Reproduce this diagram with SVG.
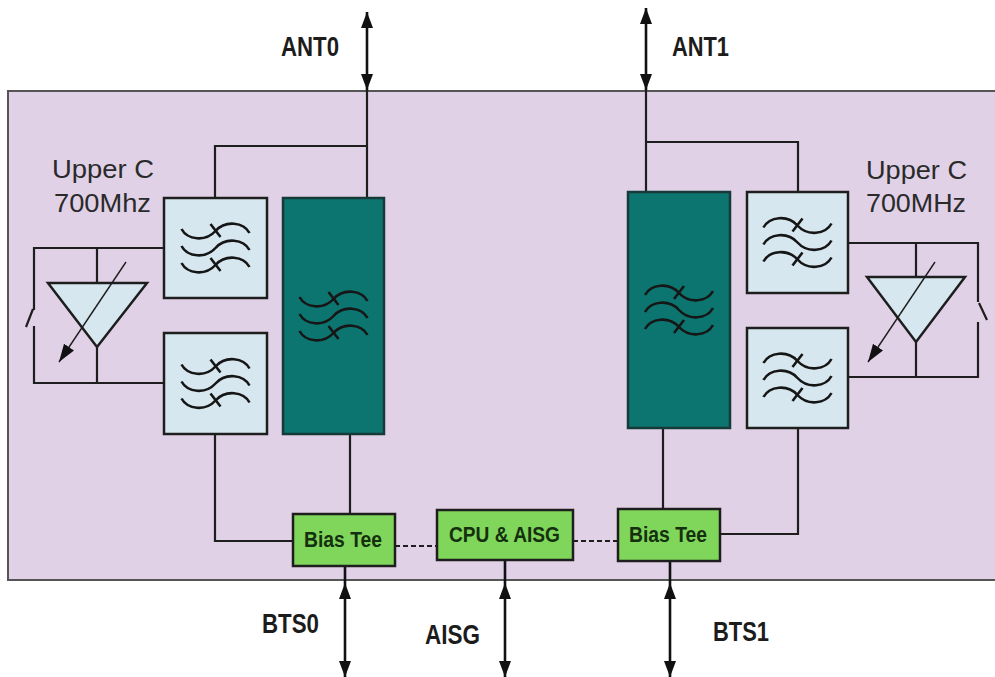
<svg xmlns="http://www.w3.org/2000/svg" width="995" height="677" viewBox="0 0 995 677">
<style>
.bg{fill:#e0d1e7;stroke:#555;stroke-width:2}
.flt{fill:#d6e7ef;stroke:#1e1e1e;stroke-width:2.5}
.teal{fill:#0d7570;stroke:#163a38;stroke-width:2.5}
.grn{fill:#80d65a;stroke:#1e1e1e;stroke-width:2.5}
.amp{fill:#d6e7ef;stroke:#1e1e1e;stroke-width:2.5;stroke-linejoin:miter}
.w{fill:none;stroke:#161616;stroke-width:2.6}
.wire{fill:none;stroke:#1e1e1e;stroke-width:2.2}
.dash{fill:none;stroke:#1e1e1e;stroke-width:2.2;stroke-dasharray:5 3}
.io{fill:none;stroke:#111;stroke-width:2.6}
.tune{fill:none;stroke:#1e1e1e;stroke-width:1.4}
.lbl{font-family:"Liberation Sans",Arial,sans-serif;font-weight:bold;font-size:27px;fill:#1c1c1c}
.box{font-family:"Liberation Sans",Arial,sans-serif;font-weight:bold;font-size:22px;fill:#14300f}
.band{font-family:"Liberation Sans",Arial,sans-serif;font-size:25px;fill:#2a2a2a}
</style>
<defs>
<marker id="arr" viewBox="0 0 16 12" refX="16" refY="6" markerWidth="16" markerHeight="12" markerUnits="userSpaceOnUse" orient="auto-start-reverse">
<path d="M0,0 L16,6 L0,12 z" fill="#111"/>
</marker>
<marker id="tarr" viewBox="0 0 18 12" refX="18" refY="6" markerWidth="18" markerHeight="12" markerUnits="userSpaceOnUse" orient="auto">
<path d="M0,0 L18,6 L0,12 z" fill="#111"/>
</marker>
<g id="wv" class="w">
<path d="M-34,-19 C-28,-8 -10,-6 0,-17 C10,-28 28,-26 34,-15"/>
<path d="M-34,-2 C-28,9 -10,11 0,0 C10,-11 28,-9 34,2"/>
<path d="M-34,15 C-28,26 -10,28 0,17 C10,6 28,8 34,19"/>
<path d="M-5,-24 L5,-11 M-5,10 L5,23"/>
</g>
</defs>

<rect id="housing" class="bg" x="8" y="91" width="990" height="489"/>

<g id="connectors">
<path class="wire" d="M367,90 V198"/>
<path class="wire" d="M367,146 H215 V198"/>
<path class="wire" d="M215,434 V541 H293"/>
<path class="wire" d="M350,434 V514"/>
<path class="wire" d="M164,248 H34 V310 M26,327 L33,309 M34,326 V383 H164"/>
<path class="wire" d="M97,248 V283 M97,347 V383"/>
<path class="wire" d="M646,90 V192"/>
<path class="wire" d="M646,142 H798 V192"/>
<path class="wire" d="M663,428 V509"/>
<path class="wire" d="M798,428 V534 H720"/>
<path class="wire" d="M848,243 H978 V302 M979,303 L987,320 M978,322 V377 H848"/>
<path class="wire" d="M916,243 V277 M916,342 V377"/>
<path class="dash" d="M395,546 H437"/>
<path class="dash" d="M573,541 H618"/>
<path class="io" d="M367,12 V90" marker-start="url(#arr)" marker-end="url(#arr)"/>
<path class="io" d="M646,8 V90" marker-start="url(#arr)" marker-end="url(#arr)"/>
<path class="io" d="M345,566 V583"/>
<path class="io" d="M345,583 V677" marker-start="url(#arr)" marker-end="url(#arr)"/>
<path class="io" d="M505,560 V583"/>
<path class="io" d="M505,583 V677" marker-start="url(#arr)" marker-end="url(#arr)"/>
<path class="io" d="M670,561 V583"/>
<path class="io" d="M670,583 V677" marker-start="url(#arr)" marker-end="url(#arr)"/>
</g>

<g id="amp0">
<polygon class="amp" points="48,283 147,283 97,347"/>
<line class="tune" x1="126" y1="262" x2="59" y2="362" marker-end="url(#tarr)"/>
</g>
<g id="amp1">
<polygon class="amp" points="867,277 965,277 916,342"/>
<line class="tune" x1="935" y1="262" x2="868" y2="362" marker-end="url(#tarr)"/>
</g>

<g id="filterUL">
<rect class="flt" x="164" y="198" width="103" height="100"/>
<use href="#wv" x="215.5" y="248"/>
</g>
<g id="filterLL">
<rect class="flt" x="164" y="333" width="103" height="101"/>
<use href="#wv" x="215.5" y="383.5"/>
</g>
<g id="duplexL">
<rect class="teal" x="283" y="198" width="101" height="236"/>
<use href="#wv" x="333.5" y="316"/>
</g>
<g id="duplexR">
<rect class="teal" x="628" y="192" width="102" height="236"/>
<use href="#wv" transform="translate(679,310) scale(-1,1)"/>
</g>
<g id="filterUR">
<rect class="flt" x="747" y="192" width="101" height="101"/>
<use href="#wv" transform="translate(797.5,242.5) scale(-1,1)"/>
</g>
<g id="filterLR">
<rect class="flt" x="747" y="328" width="101" height="100"/>
<use href="#wv" transform="translate(797.5,378) scale(-1,1)"/>
</g>

<g id="biasTee0">
<rect class="grn" x="293" y="514" width="102" height="52"/>
<text class="box" x="304" y="547" textLength="78" lengthAdjust="spacingAndGlyphs">Bias Tee</text>
</g>
<g id="cpu">
<rect class="grn" x="437" y="510" width="136" height="50"/>
<text class="box" x="449" y="542" textLength="111" lengthAdjust="spacingAndGlyphs">CPU &amp; AISG</text>
</g>
<g id="biasTee1">
<rect class="grn" x="618" y="509" width="102" height="52"/>
<text class="box" x="629" y="542" textLength="78" lengthAdjust="spacingAndGlyphs">Bias Tee</text>
</g>

<g id="labels">
<text class="lbl" x="281" y="56" textLength="58" lengthAdjust="spacingAndGlyphs">ANT0</text>
<text class="lbl" x="672" y="56" textLength="57" lengthAdjust="spacingAndGlyphs">ANT1</text>
<text class="lbl" x="262" y="633" textLength="57" lengthAdjust="spacingAndGlyphs">BTS0</text>
<text class="lbl" x="425" y="644" textLength="55" lengthAdjust="spacingAndGlyphs">AISG</text>
<text class="lbl" x="713" y="641" textLength="56" lengthAdjust="spacingAndGlyphs">BTS1</text>
<text class="band" x="52" y="178" textLength="102" lengthAdjust="spacingAndGlyphs">Upper C</text>
<text class="band" x="54" y="212" textLength="97" lengthAdjust="spacingAndGlyphs">700Mhz</text>
<text class="band" x="866" y="179" textLength="101" lengthAdjust="spacingAndGlyphs">Upper C</text>
<text class="band" x="866" y="212" textLength="100" lengthAdjust="spacingAndGlyphs">700MHz</text>
</g>
</svg>
